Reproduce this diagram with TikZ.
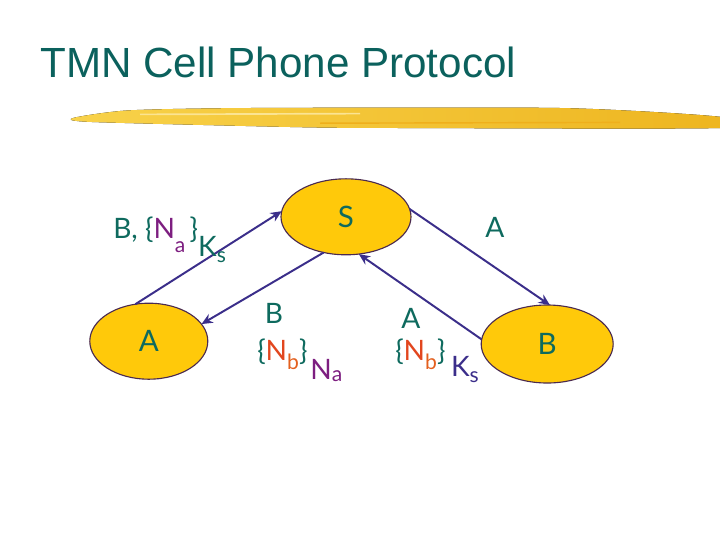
\documentclass[tikz,border=0pt]{standalone}
\usepackage{fontspec}
\setmainfont{Lato}
\newfontfamily\titlefont{Liberation Sans}
\usepackage{xcolor}
\usepackage{tikz}
\usetikzlibrary{arrows.meta,shapes.geometric,calc}
\definecolor{TitleTeal}{HTML}{0B615D}
\definecolor{LabelTeal}{HTML}{0E6A5E}
\definecolor{NoncePurple}{HTML}{7D1E80}
\definecolor{NonceRed}{HTML}{E2461E}
\definecolor{NonceOrange}{HTML}{E3601F}
\definecolor{FlowIndigo}{HTML}{3B2E8A}
\definecolor{PartyGold}{HTML}{FFC90A}
\definecolor{PartyRim}{HTML}{4A2A50}
\definecolor{BrushLight}{HTML}{F8D24A}
\definecolor{BrushDark}{HTML}{EDB41E}
\newcommand{\lowsub}[2]{\raisebox{#1}{\fontsize{15}{15}\selectfont #2}}

\begin{document}
\begin{tikzpicture}[x=1cm,y=1cm,>=Stealth]
  \tikzset{
    party/.style={ellipse,draw=PartyRim,fill=PartyGold,line width=0.8pt,inner sep=0pt,outer sep=0pt,minimum height=1.9cm,font=\fontsize{21}{24}\selectfont,text=LabelTeal},
    flow/.style={FlowIndigo,line width=1.4pt,-{Stealth[length=8pt,width=7pt]}},
    msg/.style={inner sep=0pt,font=\fontsize{20}{22}\selectfont,text=LabelTeal}
  }
  \useasboundingbox (0,0) rectangle (18,-13.5);
  % title and brush stroke
  \node[anchor=base west,inner sep=0pt,font=\titlefont\fontsize{30}{36}\selectfont,text=TitleTeal] (title) at (1.0,-1.925) {TMN Cell Phone Protocol};
  \fill[left color=BrushLight,right color=BrushDark] plot[smooth cycle,tension=0.4] coordinates {(1.825,-2.95) (3.2,-2.76) (6.25,-2.7) (14,-2.7) (18,-2.92) (18,-3.2) (10,-3.2) (7.5,-3.18) (2.3,-3.05)};
  \draw[BrushLight!60!white,line width=1.2pt] (3.5,-2.86) -- (9,-2.84);
  \draw[BrushDark!90!orange,line width=1pt] (8,-3.08) -- (15.5,-3.06);
  % the three parties
  \node[party,minimum width=2.95cm] (A) at (3.72,-8.53) {A};
  \node[party,minimum width=3.25cm] (S) at (8.65,-5.42) {S};
  \node[party,minimum width=3.3cm,minimum height=1.95cm] (B) at (13.68,-8.6) {B};
  % messages
  \draw[flow] (A.110) -- (S.175);
  \draw[flow] (S.238) -- (A.18);
  \draw[flow] (S.7) -- (B.86);
  \draw[flow] (B.176) -- (S.289);
  \node[msg,anchor=base west] (lblAS) at (2.825,-5.95) {B, \{\textcolor{NoncePurple}{N\lowsub{-10pt}{a}}\hspace{3pt}\}\raisebox{-13.5pt}{K\lowsub{-4pt}{s}}};
  \node[msg,anchor=base] (lblSB) at (12.375,-5.925) {A};
  \node[msg,anchor=base] (lblSAtop) at (6.85,-8.075) {B};
  \node[msg,anchor=base west] (lblSA) at (6.425,-9.0) {\{\textcolor{NonceRed}{N}\textcolor{NonceOrange}{\lowsub{-7pt}{b}}\}\hspace{2pt}\raisebox{-14pt}{\textcolor{NoncePurple}{N\lowsub{-1.5pt}{a}}}};
  \node[msg,anchor=base] (lblBStop) at (10.275,-8.2) {A};
  \node[msg,anchor=base west] (lblBS) at (9.875,-9.0) {\{\textcolor{NonceRed}{N}\textcolor{NonceOrange}{\lowsub{-7pt}{b}}\}\hspace{4pt}\raisebox{-12pt}{\textcolor{FlowIndigo}{K\lowsub{-4pt}{s}}}};
\end{tikzpicture}
\end{document}
